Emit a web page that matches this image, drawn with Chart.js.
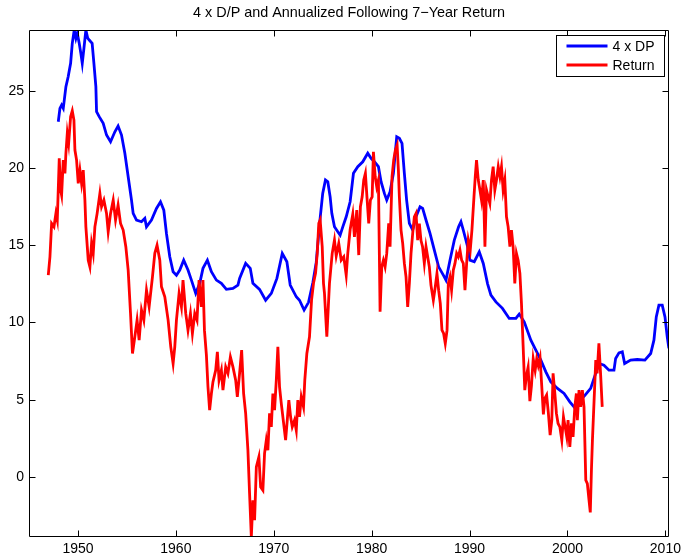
<!DOCTYPE html>
<html>
<head>
<meta charset="utf-8">
<title>4 x D/P and Annualized Following 7-Year Return</title>
<script src="https://cdn.jsdelivr.net/npm/chart.js@4.4.0/dist/chart.umd.min.js"></script>
<style>
    html, body { margin: 0; padding: 0; background: #fff; }
    #grafico { display: block; }
</style>
</head>
<body>
<canvas id="grafico" width="683" height="556"></canvas>
<script>
/* datos */
const dpYears = [
    1947.99, 1948.16, 1948.33, 1948.5, 1948.77, 1949.0, 1949.25, 1949.42, 1949.62, 1949.79,
    1949.93, 1950.13, 1950.3, 1950.44, 1950.61, 1950.81, 1951.0, 1951.15, 1951.45, 1951.63,
    1951.83, 1951.9, 1952.17, 1952.58, 1952.92, 1953.33, 1953.77, 1954.1, 1954.45, 1954.79,
    1955.13, 1955.47, 1955.64, 1955.98, 1956.49, 1956.83, 1957.0, 1957.51, 1958.02, 1958.43,
    1958.77, 1959.04, 1959.38, 1959.72, 1960.06, 1960.4, 1960.8, 1961.24, 1961.59, 1962.03,
    1962.44, 1962.77, 1963.22, 1963.63, 1964.14, 1964.65, 1965.16, 1965.83, 1966.34, 1966.51,
    1967.13, 1967.6, 1967.87, 1968.55, 1969.17, 1969.75, 1970.32, 1970.87, 1971.34, 1971.68,
    1972.3, 1972.63, 1973.1, 1973.55, 1974.0, 1974.34, 1974.68, 1975.0, 1975.28, 1975.52,
    1975.76, 1975.93, 1976.2, 1976.54, 1976.78, 1977.05, 1977.4, 1977.8, 1978.14, 1978.58,
    1979.09, 1979.6, 1979.94, 1980.28, 1980.69, 1980.96, 1981.3, 1981.54, 1981.88, 1982.22,
    1982.56, 1982.83, 1983.1, 1983.34, 1983.57, 1983.85, 1984.19, 1984.53, 1984.94, 1985.21,
    1985.55, 1985.96, 1986.4, 1986.84, 1987.32, 1987.59, 1988.0, 1988.44, 1988.88, 1989.12,
    1989.36, 1989.8, 1990.04, 1990.48, 1990.99, 1991.4, 1991.84, 1992.18, 1992.69, 1993.36,
    1994.05, 1994.73, 1995.07, 1995.58, 1996.26, 1996.77, 1997.28, 1997.79, 1998.3, 1998.98,
    1999.65, 2000.24, 2000.67, 2001.18, 2001.8, 2002.37, 2002.88, 2003.22, 2003.73, 2004.24,
    2004.75, 2004.92, 2005.26, 2005.6, 2005.84, 2006.45, 2007.13, 2007.91, 2008.5, 2008.83,
    2009.07, 2009.34, 2009.68, 2009.96, 2010.19, 2010.36
];
const dpValues = [
    22.99, 23.86, 24.07, 23.86, 25.26, 25.9, 26.77, 28.07, 28.93, 28.39,
    28.72, 28.07, 27.4, 26.77, 27.74, 28.93, 28.4, 28.28, 28.07, 26.77,
    25.26, 23.64, 23.32, 22.89, 22.13, 21.7, 22.34, 22.71, 22.13, 20.95,
    19.43, 17.92, 17.06, 16.63, 16.52, 16.74, 16.19, 16.63, 17.38, 17.81,
    17.27, 15.76, 14.25, 13.28, 13.06, 13.39, 14.03, 13.39, 12.74, 11.88,
    12.53, 13.5, 14.03, 13.28, 12.74, 12.53, 12.14, 12.2, 12.42, 12.85,
    13.82, 13.5, 12.53, 12.14, 11.44, 11.88, 12.85, 14.47, 13.93, 12.42,
    11.66, 11.44, 10.8, 11.3, 12.6, 13.9, 16.4, 18.35, 19.22, 19.11,
    18.13, 17.06, 16.19, 15.87, 15.65, 16.19, 16.84, 17.81, 19.65, 20.08,
    20.4, 20.95, 20.62, 20.4, 20.08, 19.11, 18.35, 17.92, 18.46, 19.65,
    22.02, 21.92, 21.59, 19.65, 17.92, 16.41, 15.98, 16.84, 17.49, 17.38,
    16.63, 15.76, 14.68, 13.6, 13.06, 12.74, 14.03, 15.33, 16.19, 16.52,
    15.98, 14.9, 14.03, 13.93, 14.57, 13.82, 12.5, 11.77, 11.33, 10.91,
    10.26, 10.26, 10.54, 10.04, 8.85, 8.21, 7.56, 6.8, 6.15, 5.73,
    5.4, 4.86, 4.53, 4.86, 5.29, 5.73, 6.7, 7.34, 7.23, 6.91,
    6.91, 7.67, 8.03, 8.1, 7.34, 7.56, 7.6, 7.56, 7.99, 8.85,
    10.36, 11.12, 11.12, 10.36, 9.07, 8.32
];

const retYears = [
    1946.97, 1947.14, 1947.31, 1947.55, 1947.75, 1947.89, 1948.09, 1948.23, 1948.33, 1948.5,
    1948.67, 1948.77, 1948.91, 1949.05, 1949.25, 1949.42, 1949.59, 1949.69, 1949.86, 1950.03,
    1950.2, 1950.37, 1950.54, 1950.71, 1950.81, 1951.05, 1951.22, 1951.39, 1951.56, 1951.73,
    1951.96, 1952.24, 1952.41, 1952.65, 1952.92, 1953.09, 1953.33, 1953.6, 1953.84, 1954.1,
    1954.35, 1954.62, 1954.89, 1955.13, 1955.37, 1955.57, 1955.81, 1956.04, 1956.25, 1956.49,
    1956.73, 1957.0, 1957.27, 1957.61, 1957.85, 1958.08, 1958.36, 1958.53, 1958.87, 1959.21,
    1959.48, 1959.72, 1959.89, 1960.06, 1960.33, 1960.57, 1960.73, 1961.01, 1961.24, 1961.49,
    1961.69, 1961.93, 1962.16, 1962.37, 1962.61, 1962.77, 1962.92, 1963.12, 1963.28, 1963.45,
    1963.63, 1963.79, 1964.07, 1964.24, 1964.41, 1964.65, 1964.81, 1965.09, 1965.32, 1965.57,
    1965.83, 1966.11, 1966.28, 1966.51, 1966.72, 1966.92, 1967.13, 1967.36, 1967.53, 1967.71,
    1967.87, 1968.04, 1968.22, 1968.48, 1968.66, 1968.89, 1969.06, 1969.24, 1969.4, 1969.57,
    1969.75, 1969.91, 1970.08, 1970.26, 1970.42, 1970.59, 1970.77, 1970.93, 1971.21, 1971.38,
    1971.54, 1971.72, 1971.89, 1972.12, 1972.3, 1972.46, 1972.63, 1972.81, 1973.04, 1973.17,
    1973.38, 1973.65, 1973.86, 1974.06, 1974.27, 1974.44, 1974.6, 1974.74, 1974.95, 1975.08,
    1975.18, 1975.42, 1975.69, 1975.97, 1976.2, 1976.38, 1976.64, 1976.89, 1977.15, 1977.4,
    1977.56, 1977.8, 1978.07, 1978.24, 1978.48, 1978.68, 1978.85, 1979.03, 1979.19, 1979.36,
    1979.54, 1979.7, 1979.87, 1980.05, 1980.18, 1980.36, 1980.52, 1980.69, 1980.86, 1981.03,
    1981.2, 1981.37, 1981.54, 1981.74, 1981.88, 1982.08, 1982.25, 1982.42, 1982.6, 1982.73,
    1982.83, 1983.0, 1983.17, 1983.34, 1983.51, 1983.68, 1983.85, 1984.02, 1984.19, 1984.36,
    1984.53, 1984.7, 1984.87, 1985.04, 1985.2, 1985.38, 1985.55, 1985.72, 1985.89, 1986.06,
    1986.3, 1986.5, 1986.67, 1986.84, 1987.01, 1987.18, 1987.35, 1987.52, 1987.7, 1987.83,
    1988.0, 1988.16, 1988.34, 1988.51, 1988.68, 1988.85, 1989.02, 1989.19, 1989.36, 1989.53,
    1989.7, 1989.87, 1990.07, 1990.24, 1990.45, 1990.58, 1990.71, 1990.89, 1991.06, 1991.22,
    1991.4, 1991.57, 1991.73, 1991.9, 1992.07, 1992.24, 1992.41, 1992.58, 1992.75, 1992.93,
    1993.1, 1993.26, 1993.43, 1993.6, 1993.77, 1993.94, 1994.12, 1994.28, 1994.45, 1994.62,
    1994.79, 1994.96, 1995.14, 1995.3, 1995.47, 1995.64, 1995.82, 1995.98, 1996.16, 1996.32,
    1996.5, 1996.7, 1996.86, 1997.02, 1997.2, 1997.37, 1997.54, 1997.7, 1997.87, 1998.04,
    1998.23, 1998.4, 1998.53, 1998.71, 1998.87, 1999.04, 1999.22, 1999.42, 1999.59, 1999.76,
    1999.93, 2000.06, 2000.24, 2000.41, 2000.57, 2000.75, 2000.91, 2001.01, 2001.18, 2001.35,
    2001.52, 2001.69, 2001.87, 2002.03, 2002.2, 2002.33, 2002.45, 2002.55, 2002.72, 2002.89,
    2003.03, 2003.21, 2003.38, 2003.55
];
const retValues = [
    13.06, 14.25, 16.41, 16.19, 17.06, 16.63, 20.62, 18.57, 18.24, 20.51,
    19.65, 20.95, 22.24, 21.59, 23.32, 23.7, 23.1, 21.16, 20.51, 19.0,
    19.86, 19.0, 19.86, 17.92, 16.19, 14.03, 13.6, 15.12, 14.47, 16.19,
    17.06, 18.35, 17.49, 17.92, 17.06, 15.87, 17.06, 17.92, 16.63, 17.6,
    16.41, 15.98, 14.9, 13.39, 10.58, 7.99, 9.07, 10.15, 8.85, 10.8,
    10.15, 12.09, 11.01, 12.95, 14.47, 15.0, 14.03, 12.31, 11.66, 10.15,
    8.42, 7.34, 8.42, 10.15, 11.88, 11.01, 12.74, 10.58, 9.5, 10.58,
    9.29, 10.58, 10.15, 12.74, 11.01, 12.74, 9.5, 7.88, 5.83, 4.32,
    5.4, 6.15, 6.91, 8.1, 6.26, 6.91, 5.62, 7.12, 6.7, 7.77,
    7.12, 6.26, 5.18, 6.7, 8.21, 5.4, 4.11, 1.73, -1.08, -3.89,
    -1.51, -2.8, 0.65, 1.3, -0.65, -0.86, 1.52, 2.38, 1.73, 4.11,
    3.24, 5.4, 4.32, 6.26, 8.42, 5.83, 4.75, 3.89, 2.38, 3.67,
    4.97, 3.89, 3.24, 3.67, 3.02, 4.97, 3.89, 5.18, 4.53, 6.26,
    7.99, 9.07, 11.44, 12.53, 13.2, 14.47, 16.41, 16.63, 14.9, 12.53,
    11.88, 9.07, 12.53, 14.47, 15.33, 14.3, 15.12, 14.03, 14.25, 13.06,
    14.47, 16.0, 17.0, 15.54, 17.27, 14.36, 17.49, 18.13, 19.22, 19.65,
    17.92, 16.41, 17.92, 18.13, 21.05, 19.43, 18.78, 19.22, 10.69, 13.6,
    14.03, 13.6, 14.47, 16.41, 14.9, 19.43, 20.51, 21.16, 21.48, 19.86,
    18.13, 15.98, 15.12, 13.82, 12.95, 11.01, 12.53, 14.47, 15.76, 16.84,
    17.06, 15.33, 16.4, 15.3, 14.9, 13.82, 14.9, 14.25, 13.6, 12.4,
    11.44, 12.31, 13.17, 12.09, 11.23, 9.5, 9.29, 8.64, 9.5, 12.53,
    12.95, 12.09, 13.39, 13.82, 14.47, 14.25, 14.68, 14.03, 13.82, 12.09,
    13.82, 15.33, 14.68, 15.98, 18.13, 19.43, 20.51, 19.22, 18.57, 17.92,
    19.22, 14.9, 18.57, 18.13, 17.71, 19.22, 20.08, 18.57, 19.22, 20.08,
    19.43, 20.08, 18.57, 19.22, 16.84, 16.19, 14.9, 15.98, 14.9, 12.53,
    14.47, 14.03, 13.17, 11.23, 8.5, 5.62, 6.6, 7.1, 4.9, 5.9,
    7.65, 6.9, 7.65, 7.2, 7.7, 5.9, 4.05, 5.1, 5.3, 4.2,
    2.7, 3.67, 6.7, 5.4, 4.11, 3.46, 3.24, 2.38, 3.89, 3.24,
    2.59, 3.67, 1.94, 3.46, 2.59, 4.53, 5.4, 3.67, 5.62, 4.53,
    5.62, 4.53, -0.21, -0.43, -1.51, -2.3, 0.5, 2.38, 4.97, 7.56,
    6.7, 8.64, 6.7, 4.53
];

const xTicks = [1950, 1960, 1970, 1980, 1990, 2000, 2010];
const yTicks = [0, 5, 10, 15, 20, 25];
const xMin = 1945, xMax = 2010.37;
const yMin = -3.89, yMax = 28.93;

const titulo = "4 x D/P and Annualized Following 7\u2212Year Return";
const fuente = "'Liberation Sans', Arial, Helvetica, sans-serif";

/* arma los puntos {x, y} a partir de los arreglos */
function puntos(xs, ys) {
    return xs.map((x, i) => ({ x: x, y: ys[i] }));
}

/* marco tipo matlab: titulo, caja, ticks hacia adentro y leyenda */
const marcoMatlab = {
    id: "marcoMatlab",
    afterDatasetsDraw(chart) {
        const { ctx, chartArea: a, scales } = chart;
        const L = Math.round(a.left) + 0.5;
        const R = Math.round(a.right) - 0.5;
        const T = Math.round(a.top) + 0.5;
        const B = Math.round(a.bottom) - 0.5;
        const largo = 6;

        ctx.save();

        // titulo centrado sobre los ejes
        ctx.fillStyle = "#000";
        ctx.font = "14.4px " + fuente;
        ctx.textAlign = "center";
        ctx.textBaseline = "middle";
        ctx.fillText(titulo, (a.left + a.right) / 2, 13.5);

        ctx.strokeStyle = "#000";
        ctx.lineWidth = 1;
        ctx.beginPath();
        ctx.rect(L, T, R - L, B - T);

        xTicks.forEach(v => {
            const px = Math.round(scales.x.getPixelForValue(v)) + 0.5;
            ctx.moveTo(px, B);
            ctx.lineTo(px, B - largo);
            ctx.moveTo(px, T);
            ctx.lineTo(px, T + largo);
        });
        yTicks.forEach(v => {
            const py = Math.round(scales.y.getPixelForValue(v)) + 0.5;
            ctx.moveTo(L, py);
            ctx.lineTo(L + largo, py);
            ctx.moveTo(R, py);
            ctx.lineTo(R - largo, py);
        });
        ctx.stroke();

        // leyenda
        const bx = Math.round(a.right) - 112.5;
        const by = Math.round(a.top) + 5.5;
        const bw = 108;
        const bh = 41;
        ctx.fillStyle = "#fff";
        ctx.fillRect(bx, by, bw, bh);
        ctx.strokeRect(bx, by, bw, bh);

        ctx.font = "14px " + fuente;
        ctx.textAlign = "left";
        ctx.textBaseline = "middle";
        chart.data.datasets.forEach((ds, i) => {
            const ly = by + 10.5 + i * 19;
            ctx.strokeStyle = ds.borderColor;
            ctx.lineWidth = 2.8;
            ctx.beginPath();
            ctx.moveTo(bx + 10, ly);
            ctx.lineTo(bx + 51, ly);
            ctx.stroke();
            ctx.fillStyle = "#000";
            ctx.fillText(ds.label, bx + 56, ly + 1);
        });
        ctx.restore();
    },
};

document.addEventListener("DOMContentLoaded", function () {
    new Chart(document.getElementById("grafico"), {
        type: "line",
        data: {
            datasets: [
                {
                    label: "4 x DP",
                    data: puntos(dpYears, dpValues),
                    borderColor: "#0000ff",
                    borderWidth: 2.8,
                    pointRadius: 0,
                    tension: 0,
                    order: 2,
                },
                {
                    label: "Return",
                    data: puntos(retYears, retValues),
                    borderColor: "#ff0000",
                    borderWidth: 2.8,
                    pointRadius: 0,
                    tension: 0,
                    order: 1,
                },
            ],
        },
        options: {
            responsive: false,
            animation: false,
            devicePixelRatio: 1,
            layout: { padding: { right: 14, left: 0, top: 30, bottom: 0 } },
            plugins: {
                legend: { display: false },
                tooltip: { enabled: false },
                title: { display: false },
            },
            scales: {
                x: {
                    type: "linear",
                    min: xMin,
                    max: xMax,
                    grid: { display: false, drawTicks: false },
                    border: { display: false },
                    afterBuildTicks: s => { s.ticks = xTicks.map(v => ({ value: v })); },
                    afterFit: s => {
                        s.height = 19;
                        s.paddingLeft = 0;
                        s.paddingRight = 0;
                    },
                    ticks: {
                        color: "#000",
                        font: { family: fuente, size: 14 },
                        padding: 4,
                        maxRotation: 0,
                        autoSkip: false,
                        callback: v => String(v),
                    },
                },
                y: {
                    type: "linear",
                    min: yMin,
                    max: yMax,
                    grid: { display: false, drawTicks: false },
                    border: { display: false },
                    afterBuildTicks: s => { s.ticks = yTicks.map(v => ({ value: v })); },
                    afterFit: s => {
                        s.width = 29;
                        s.paddingTop = 0;
                        s.paddingBottom = 0;
                    },
                    ticks: {
                        color: "#000",
                        font: { family: fuente, size: 14 },
                        padding: 5,
                        callback: v => String(v),
                    },
                },
            },
        },
        plugins: [marcoMatlab],
    });
});
</script>
</body>
</html>
